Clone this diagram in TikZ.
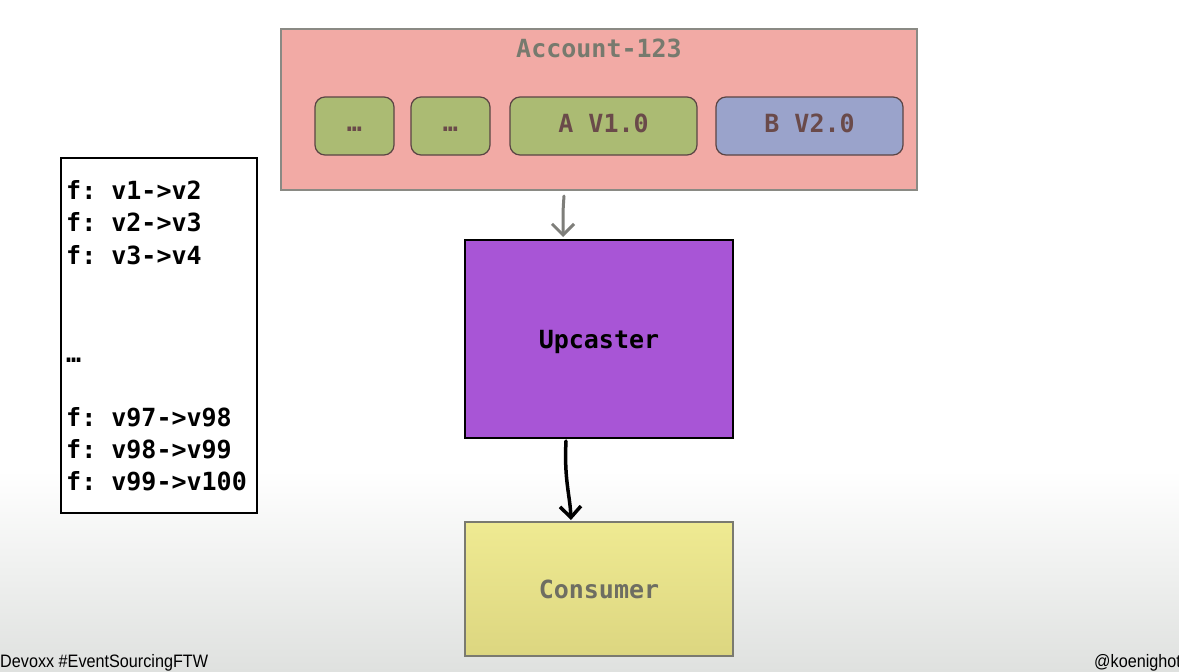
\documentclass[tikz,border=0pt]{standalone}
\usepackage{fontspec}
\usetikzlibrary{arrows.meta}
\newfontfamily\monofnt{DejaVu Sans Mono}
\newfontfamily\footfnt{Liberation Sans}[FakeStretch=0.9]
\definecolor{acctfill}{HTML}{F2AAA5}
\definecolor{acctdraw}{HTML}{8A8A84}
\definecolor{arrgray}{HTML}{7E7E7A}
\definecolor{titlegray}{HTML}{777A6E}
\definecolor{evgreen}{HTML}{ABBB73}
\definecolor{evblue}{HTML}{9AA3CB}
\definecolor{evdraw}{HTML}{5A4444}
\definecolor{evtext}{HTML}{6A4A4A}
\definecolor{upfill}{HTML}{A855D6}
\definecolor{contop}{HTML}{EFEA92}
\definecolor{conbot}{HTML}{DCD680}
\definecolor{condraw}{HTML}{7A7A70}
\definecolor{context}{HTML}{6E6E62}
\definecolor{bgbot}{HTML}{DFE1DF}
\tikzset{
  mt/.style={font=\monofnt\bfseries\fontsize{25}{30}\selectfont\frenchspacing},
  evbox/.style={rounded corners=10pt, draw=evdraw, line width=1.2pt, fill=#1, minimum height=58pt, inner sep=0pt},
  evlabel/.style={mt, text=evtext, inner sep=0pt},
  lline/.style={mt, anchor=base west, inner sep=0pt},
}
\begin{document}
\begin{tikzpicture}[x=1pt,y=-1pt]
\useasboundingbox (0,0) rectangle (1179,672);
\clip (0,0) rectangle (1179,672);
% background
\fill[white] (0,0) rectangle (1179,672);
\shade[top color=white, bottom color=bgbot] (0,470) rectangle (1179,672);

% account box
\node[draw=acctdraw, line width=1.5pt, fill=acctfill, minimum width=636pt, minimum height=161pt, inner sep=0pt] (acct) at (599,109.5) {};
\node[mt, text=titlegray, inner sep=0pt] (title) at (599,48) {Account-123};
\node[evbox=evgreen, minimum width=79pt] (e1) at (354.5,126) {};
\node[evbox=evgreen, minimum width=79pt] (e2) at (450.5,126) {};
\node[evbox=evgreen, minimum width=187pt] (e3) at (603.5,126) {};
\node[evbox=evblue, minimum width=187pt] (e4) at (809.5,126) {};
\node[evlabel] (t1) at (354.5,129) {…};
\node[evlabel] (t2) at (450.5,129) {…};
\node[evlabel] (t3) at (603.5,123) {A V1.0};
\node[evlabel] (t4) at (809.5,123) {B V2.0};

% upcaster
\node[draw=black, line width=2pt, fill=upfill, minimum width=268pt, minimum height=198pt, inner sep=0pt] (up) at (599,339) {};
\node[mt, text=black, inner sep=0pt, anchor=base] (uplabel) at (599,348) {Upcaster};

% consumer
\node[draw=condraw, line width=1.5pt, top color=contop, bottom color=conbot, minimum width=268pt, minimum height=134pt, inner sep=0pt] (con) at (599,589) {};
\node[mt, text=context, inner sep=0pt, anchor=base] (conlabel) at (599,598) {Consumer};

% arrows
\coordinate (a1s) at (564,196);
\coordinate (a1e) at (563,237);
\draw[arrgray, line width=3pt, line cap=round, -{Straight Barb[length=11pt,width=22pt,line width=3pt]}] (a1s) .. controls (563,210) .. (a1e);
\coordinate (a2s) at (566,441);
\coordinate (a2e) at (571,520);
\draw[black, line width=3.5pt, line cap=round, -{Straight Barb[length=11pt,width=21pt,line width=3.5pt]}] (a2s) .. controls (564,480) and (570,495) .. (a2e);

% left list box
\node[draw=black, line width=1.5pt, fill=white, minimum width=196pt, minimum height=355pt, inner sep=0pt] (list) at (159,335.5) {};
\node[lline] (l1) at (66,199) {f: v1->v2};
\node[lline] (l2) at (66,231) {f: v2->v3};
\node[lline] (l3) at (66,264) {f: v3->v4};
\node[lline] (l4) at (66,362) {…};
\node[lline] (l5) at (66,426) {f: v97->v98};
\node[lline] (l6) at (66,458) {f: v98->v99};
\node[lline] (l7) at (66,490) {f: v99->v100};

% footer
\node[anchor=base west, inner sep=0pt, font=\footfnt\fontsize{18}{20}\selectfont, text=black] (foot) at (0,667) {Devoxx \#EventSourcingFTW};
\node[anchor=base west, inner sep=0pt, font=\footfnt\fontsize{18}{20}\selectfont, text=black] (handle) at (1094,667) {@koenighot};
\end{tikzpicture}
\end{document}
